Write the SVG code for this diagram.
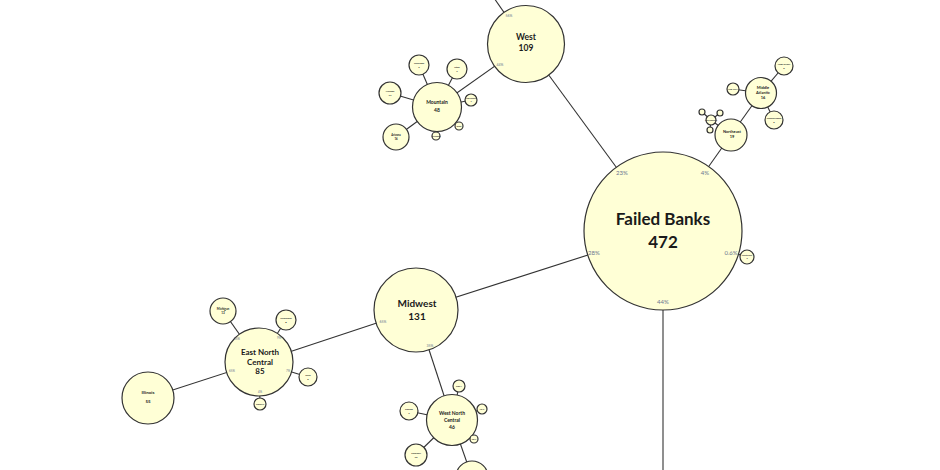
<svg xmlns="http://www.w3.org/2000/svg" width="940" height="470" viewBox="0 0 940 470">
<style>
.n circle{fill:#FFFFD6;stroke:#333;stroke-width:1.2}
.n text{font-family:Lato,'Liberation Sans',sans-serif;font-weight:bold;fill:#1a1a1a;text-anchor:middle}
.n text.p{font-weight:normal;fill:#6a7590}
#connectors line{stroke:#333;stroke-width:1.1}
</style>
<rect width="940" height="470" fill="#fff"/>
<g id="connectors">
<line x1="663" y1="231" x2="526" y2="44"/>
<line x1="663" y1="231" x2="416" y2="310"/>
<line x1="663" y1="231" x2="731" y2="135"/>
<line x1="663" y1="231" x2="663" y2="480"/>
<line x1="663" y1="231" x2="747" y2="257"/>
<line x1="526" y1="44" x2="494" y2="-2"/>
<line x1="526" y1="44" x2="437" y2="107"/>
<line x1="437" y1="107" x2="419" y2="65"/>
<line x1="437" y1="107" x2="457" y2="69"/>
<line x1="437" y1="107" x2="390" y2="93"/>
<line x1="437" y1="107" x2="471" y2="100"/>
<line x1="437" y1="107" x2="459" y2="126"/>
<line x1="437" y1="107" x2="436" y2="136"/>
<line x1="437" y1="107" x2="396" y2="137"/>
<line x1="416" y1="310" x2="259" y2="362"/>
<line x1="416" y1="310" x2="452" y2="420"/>
<line x1="259" y1="362" x2="148" y2="398"/>
<line x1="259" y1="362" x2="223" y2="311"/>
<line x1="259" y1="362" x2="286" y2="320"/>
<line x1="259" y1="362" x2="308" y2="377"/>
<line x1="259" y1="362" x2="260" y2="404"/>
<line x1="452" y1="420" x2="459" y2="386"/>
<line x1="452" y1="420" x2="409" y2="411"/>
<line x1="452" y1="420" x2="482" y2="409"/>
<line x1="452" y1="420" x2="474" y2="439"/>
<line x1="452" y1="420" x2="416" y2="455"/>
<line x1="452" y1="420" x2="472" y2="477"/>
<line x1="731" y1="135" x2="761" y2="93"/>
<line x1="731" y1="135" x2="711" y2="120"/>
<line x1="761" y1="93" x2="733" y2="89"/>
<line x1="761" y1="93" x2="784" y2="66"/>
<line x1="761" y1="93" x2="774" y2="120"/>
<line x1="711" y1="120" x2="702" y2="112"/>
<line x1="711" y1="120" x2="720" y2="113"/>
<line x1="711" y1="120" x2="710" y2="130"/>
</g>

<g id="failed-banks" class="n">
<circle cx="663" cy="231" r="79"/>
<text x="663" y="225" font-size="17">Failed Banks</text>
<text x="663" y="248" font-size="17">472</text>
<text class="p" x="622" y="175" font-size="6">23%</text>
<text class="p" x="705" y="175" font-size="6">4%</text>
<text class="p" x="594" y="255" font-size="6">28%</text>
<text class="p" x="731" y="255" font-size="6">0.6%</text>
<text class="p" x="663" y="304" font-size="6">44%</text>
</g>

<g id="west" class="n">
<circle cx="526" cy="44" r="38.5"/>
<text x="526" y="40" font-size="8.5">West</text>
<text x="526" y="51" font-size="8.5">109</text>
<text class="p" x="509" y="17" font-size="3.5">56%</text>
<text class="p" x="500" y="66" font-size="3.5">44%</text>
</g>

<g id="mountain" class="n">
<circle cx="437" cy="107" r="24.5"/>
<text x="437" y="104" font-size="5">Mountain</text>
<text x="437" y="112" font-size="5">48</text>
</g>
<g id="colorado" class="n"><circle cx="419" cy="65" r="10"/><text x="419" y="64" font-size="2.5">Colorado</text><text x="419" y="68" font-size="2.5">9</text></g>
<g id="utah" class="n"><circle cx="457" cy="69" r="10"/><text x="457" y="68" font-size="2.5">Utah</text><text x="457" y="72" font-size="2.5">7</text></g>
<g id="nevada" class="n"><circle cx="390" cy="93" r="11"/><text x="390" y="92" font-size="2.5">Nevada</text><text x="390" y="96" font-size="2.5">12</text></g>
<g id="new-mexico" class="n"><circle cx="471" cy="100" r="6"/><text x="471" y="99" font-size="2">New Mexico</text><text x="471" y="102" font-size="2">2</text></g>
<g id="idaho" class="n"><circle cx="459" cy="126" r="4"/><text x="459" y="127" font-size="2">Idaho</text></g>
<g id="wyoming" class="n"><circle cx="436" cy="136" r="4"/><text x="436" y="137" font-size="2">Wyoming</text></g>
<g id="arizona" class="n"><circle cx="396" cy="137" r="13"/><text x="396" y="136" font-size="2.8">Arizona</text><text x="396" y="140" font-size="2.8">16</text></g>

<g id="midwest" class="n">
<circle cx="416" cy="310" r="42"/>
<text x="417" y="307" font-size="10">Midwest</text>
<text x="417" y="320" font-size="10">131</text>
<text class="p" x="383" y="323" font-size="3.5">65%</text>
<text class="p" x="430" y="347" font-size="3.5">35%</text>
</g>

<g id="east-north-central" class="n">
<circle cx="259" cy="362" r="34"/>
<text x="260" y="355" font-size="8">East North</text>
<text x="260" y="365" font-size="8">Central</text>
<text x="260" y="374" font-size="8">85</text>
<text class="p" x="237" y="340" font-size="3">15%</text>
<text class="p" x="279" y="339" font-size="3">9%</text>
<text class="p" x="232" y="372" font-size="3">65%</text>
<text class="p" x="288" y="372" font-size="3">7%</text>
<text class="p" x="260" y="393" font-size="3">4%</text>
</g>
<g id="illinois" class="n"><circle cx="148" cy="398" r="26"/><text x="148" y="394" font-size="4.5">Illinois</text><text x="148" y="403" font-size="4.5">55</text></g>
<g id="michigan" class="n"><circle cx="223" cy="311" r="13"/><text x="223" y="310" font-size="3">Michigan</text><text x="223" y="314" font-size="3">13</text></g>
<g id="wisconsin" class="n"><circle cx="286" cy="320" r="10"/><text x="286" y="319" font-size="2.5">Wisconsin</text><text x="286" y="323" font-size="2.5">8</text></g>
<g id="ohio" class="n"><circle cx="308" cy="377" r="9"/><text x="308" y="376" font-size="2.5">Ohio</text><text x="308" y="380" font-size="2.5">6</text></g>
<g id="indiana" class="n"><circle cx="260" cy="404" r="6"/><text x="260" y="405" font-size="2">Indiana 3</text></g>

<g id="west-north-central" class="n">
<circle cx="452" cy="420" r="25.5"/>
<text x="452" y="415" font-size="5">West North</text>
<text x="452" y="422" font-size="5">Central</text>
<text x="452" y="429" font-size="5">46</text>
</g>
<g id="iowa" class="n"><circle cx="459" cy="386" r="6"/><text x="459" y="387" font-size="2">Iowa 4</text></g>
<g id="kansas" class="n"><circle cx="409" cy="411" r="9"/><text x="409" y="410" font-size="2.5">Kansas</text><text x="409" y="414" font-size="2.5">7</text></g>
<g id="nebraska" class="n"><circle cx="482" cy="409" r="5"/><text x="482" y="410" font-size="2">NE 3</text></g>
<g id="south-dakota" class="n"><circle cx="474" cy="439" r="4"/><text x="474" y="440" font-size="2">SD 2</text></g>
<g id="missouri" class="n"><circle cx="416" cy="455" r="11"/><text x="416" y="454" font-size="2.5">Missouri</text><text x="416" y="458" font-size="2.5">10</text></g>
<g id="minnesota" class="n"><circle cx="472" cy="477" r="16"/></g>

<g id="northeast" class="n">
<circle cx="731" cy="135" r="16"/>
<text x="732" y="133" font-size="4">Northeast</text>
<text x="732" y="138" font-size="4">19</text>
</g>
<g id="middle-atlantic" class="n">
<circle cx="761" cy="93" r="15.5"/>
<text x="763" y="89" font-size="4">Middle</text>
<text x="763" y="94" font-size="4">Atlantic</text>
<text x="763" y="99" font-size="4">16</text>
</g>
<g id="new-york" class="n"><circle cx="733" cy="89" r="6"/><text x="733" y="90" font-size="2">New York 4</text></g>
<g id="new-jersey" class="n"><circle cx="784" cy="66" r="9"/><text x="784" y="65" font-size="2.5">New Jersey</text><text x="784" y="69" font-size="2.5">6</text></g>
<g id="pennsylvania" class="n"><circle cx="774" cy="120" r="9"/><text x="774" y="119" font-size="2.5">Pennsylvania</text><text x="774" y="123" font-size="2.5">6</text></g>
<g id="new-england" class="n"><circle cx="711" cy="120" r="5"/><text x="711" y="121" font-size="1.8">New England 3</text></g>
<g id="massachusetts" class="n"><circle cx="702" cy="112" r="3"/></g>
<g id="new-hampshire" class="n"><circle cx="720" cy="113" r="3"/></g>
<g id="connecticut" class="n"><circle cx="710" cy="130" r="3"/></g>

<g id="puerto-rico" class="n"><circle cx="747" cy="257" r="7"/><text x="747" y="256" font-size="2">Puerto Rico</text><text x="747" y="259" font-size="2">3</text></g>
</svg>
